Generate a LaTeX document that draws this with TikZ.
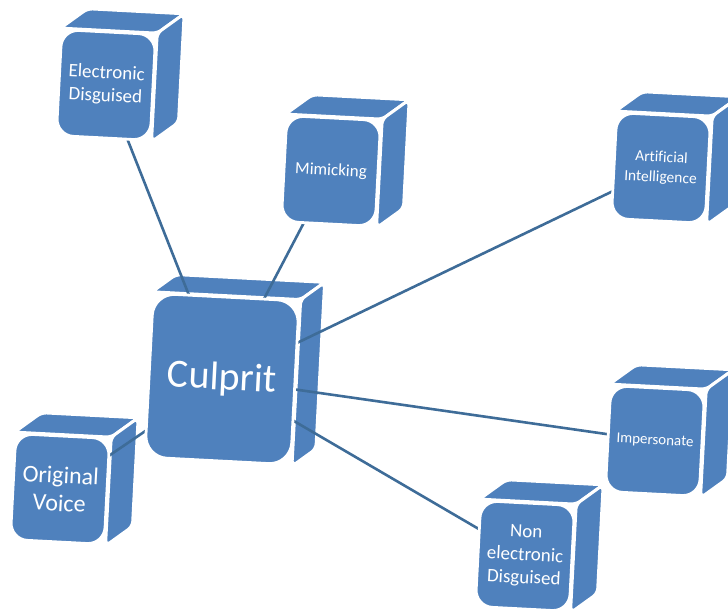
\documentclass[tikz,border=0pt]{standalone}
\usepackage{fontspec}
\setmainfont[Ligatures=NoCommon]{Carlito}
\usetikzlibrary{backgrounds,calc}
\usepackage{xcolor}
\definecolor{cubeblue}{RGB}{79,129,189}
\definecolor{linkblue}{RGB}{62,108,152}

\begin{document}
\begin{tikzpicture}[x=1pt,y=-1pt]
	\useasboundingbox (0,0) rectangle (728,609);

	\tikzstyle{front face}=[fill=cubeblue, draw=white, line width=2.8pt, rounded corners=17pt,
		text=white, align=center, inner sep=0pt, minimum width=94pt, minimum height=106pt, rotate=-3]
	\tikzstyle{side face}=[fill=cubeblue, draw=white, line width=3pt, rounded corners=5pt]
	\tikzstyle{link}=[draw=linkblue, line width=2.6pt]

	% Front faces of the cubes.
	\node (culprit) at (222,379) [front face, minimum width=146pt, minimum height=164pt,
		rounded corners=22pt, font=\fontsize{40}{44}\selectfont] {Culprit};
	\node (elec) at (106,85) [front face, font=\fontsize{19}{23}\selectfont] {Electronic\\Disguised};
	\node (mimic) at (331,171) [front face, font=\fontsize{17}{20}\selectfont] {Mimicking};
	\node (ai) at (661,168) [front face, font=\fontsize{15.5}{20}\selectfont] {Artificial\\Intelligence};
	\node (imper) at (655,441) [front face, font=\fontsize{15}{18}\selectfont] {Impersonate};
	\node (nonelec) at (525,556) [front face, font=\fontsize{19}{23}\selectfont] {Non\\electronic\\Disguised};
	\node (voice) at (60,489) [front face, font=\fontsize{24}{28}\selectfont] {Original\\Voice};

	\begin{scope}[on background layer]
		% Top and right faces behind each front face.
		\foreach \n/\d in {culprit/24, elec/27, mimic/27, ai/27, imper/27, nonelec/27, voice/27} {
			\pgfmathsetmacro\h{0.72*\d}
			\draw[side face] (\n.north west) -- ($(\n.north west)+(\d,-\h)$)
				-- ($(\n.north east)+(\d,-\h)$) -- (\n.north east) -- cycle;
			\draw[side face] (\n.north east) -- ($(\n.north east)+(\d,-\h)$)
				-- ($(\n.south east)+(\d,-\h)$) -- (\n.south east) -- cycle;
		}
		% Links from the centre cube.
		\foreach \n in {elec,mimic,ai,imper,nonelec,voice}
			\draw[link] (culprit.center) -- (\n.center);
	\end{scope}
\end{tikzpicture}
\end{document}
